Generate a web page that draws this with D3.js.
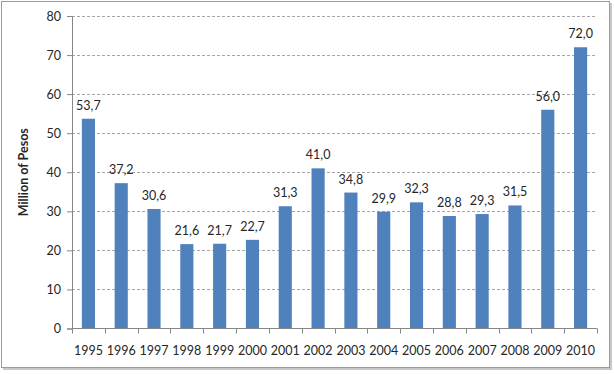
<!DOCTYPE html>
<html>
<head>
<meta charset="utf-8">
<script src="https://cdn.jsdelivr.net/npm/d3@7"></script>
<style>
  body { margin: 0; background: #fff; }
  text { font-family: Lato, "Open Sans", sans-serif; fill: #262626; }
</style>
</head>
<body>
<div id="chart"></div>
<script>
// data
var years = ["1995", "1996", "1997", "1998", "1999", "2000", "2001", "2002",
             "2003", "2004", "2005", "2006", "2007", "2008", "2009", "2010"];
var pesos = [53.7, 37.2, 30.6, 21.6, 21.7, 22.7, 31.3, 41.0,
             34.8, 29.9, 32.3, 28.8, 29.3, 31.5, 56.0, 72.0];
var yTicks = [0, 10, 20, 30, 40, 50, 60, 70, 80];

var svgWidth = 614, svgHeight = 374;
var margin = {top: 16, right: 17, bottom: 45.5, left: 72};
var chartWidth = svgWidth - margin.left - margin.right;
var chartHeight = svgHeight - margin.top - margin.bottom;

var svg = d3.select("#chart")
  .append("svg")
  .attr("width", svgWidth)
  .attr("height", svgHeight);

// frame with a light shadow, like the pasted Excel picture
svg.append("rect")
  .attr("x", 3).attr("y", 3)
  .attr("width", 609).attr("height", 367)
  .style("fill", "#c8c8c8");
svg.append("rect")
  .attr("x", 1.5).attr("y", 1.5)
  .attr("width", 608).attr("height", 366)
  .style("fill", "#fff")
  .style("stroke", "#9a9a9a")
  .style("stroke-width", 1);

var chartGroup = svg.append("g")
  .attr("transform", `translate(${margin.left}, ${margin.top})`);

var x = d3.scaleBand()
  .domain(years)
  .range([0, chartWidth])
  .paddingInner(0.6)
  .paddingOuter(0.3);

var y = d3.scaleLinear()
  .domain([0, 80])
  .range([chartHeight, 0]);

// dashed gridlines
chartGroup.append("g")
  .selectAll("line")
  .data(yTicks.filter(d => d > 0))
  .enter()
  .append("line")
  .attr("x1", 0)
  .attr("x2", chartWidth)
  .attr("y1", d => Math.round(y(d)) + 0.5)
  .attr("y2", d => Math.round(y(d)) + 0.5)
  .style("stroke", "#a6a6a6")
  .style("stroke-dasharray", "3,2");

// bars
chartGroup.selectAll(".bar")
  .data(pesos)
  .enter()
  .append("rect")
  .attr("class", "bar")
  .attr("x", (d, i) => x(years[i]))
  .attr("y", d => y(d))
  .attr("width", x.bandwidth())
  .attr("height", d => chartHeight - y(d))
  .style("fill", "#4f81bd");

// value labels
chartGroup.selectAll(".val")
  .data(pesos)
  .enter()
  .append("text")
  .attr("class", "val")
  .attr("x", (d, i) => x(years[i]) + x.bandwidth() / 2)
  .attr("y", d => y(d) - 9)
  .attr("text-anchor", "middle")
  .style("font-size", "12.5px")
  .text(d => d.toFixed(1).replace(".", ","));

// y axis
var leftAxis = d3.axisLeft(y).tickValues(yTicks).tickSize(5).tickPadding(6);
var yAxis = chartGroup.append("g").call(leftAxis);
yAxis.select(".domain").style("stroke", "#868686");
yAxis.selectAll(".tick line").style("stroke", "#868686");
yAxis.selectAll("text").style("font-size", "12.5px");

// x axis: ticks sit between categories
var xAxis = chartGroup.append("g")
  .attr("transform", `translate(0, ${chartHeight})`);
xAxis.append("line")
  .attr("x1", 0).attr("x2", chartWidth)
  .style("stroke", "#868686");
var step = chartWidth / years.length;
xAxis.selectAll(".xt")
  .data(d3.range(years.length + 1))
  .enter()
  .append("line")
  .attr("x1", i => Math.round(i * step) + 0.5)
  .attr("x2", i => Math.round(i * step) + 0.5)
  .attr("y1", 0).attr("y2", 5)
  .style("stroke", "#868686");
xAxis.selectAll(".xl")
  .data(years)
  .enter()
  .append("text")
  .attr("x", d => x(d) + x.bandwidth() / 2)
  .attr("y", 26)
  .attr("text-anchor", "middle")
  .style("font-size", "12.5px")
  .text(d => d);

// y axis title
chartGroup.append("text")
  .attr("transform", `translate(${-44}, ${chartHeight / 2}) rotate(-90)`)
  .attr("text-anchor", "middle")
  .style("font-size", "12.5px")
  .style("font-weight", "bold")
  .text("Million of Pesos");
</script>
</body>
</html>
